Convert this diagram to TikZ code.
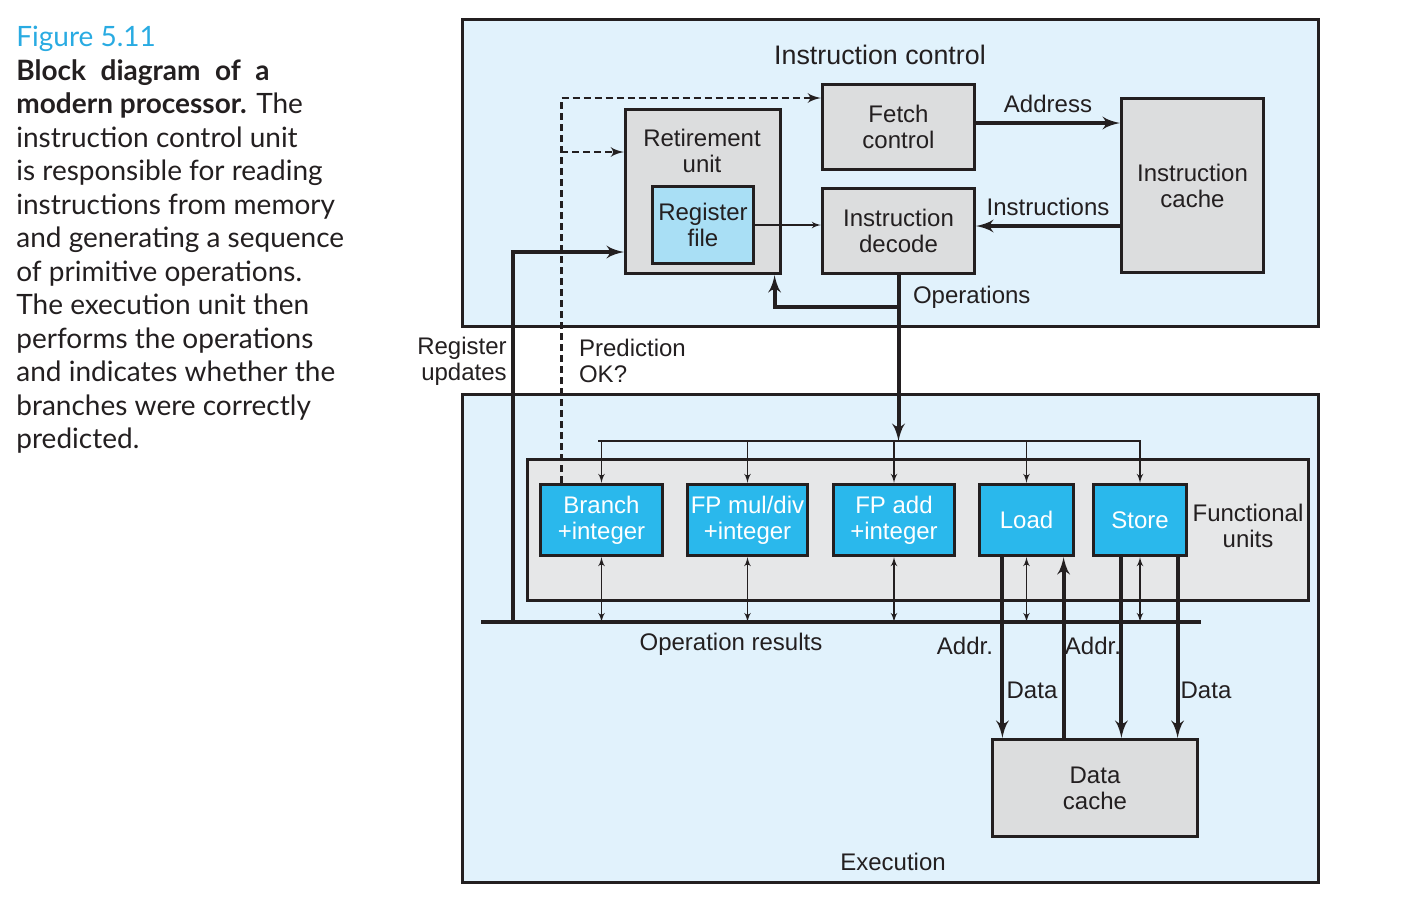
\documentclass[tikz,border=0pt]{standalone}
\usepackage{fontspec}
\setmainfont{Liberation Sans}
\newfontfamily\capfont{Lato}
\usetikzlibrary{arrows,positioning,calc}

\definecolor{unitblue}{HTML}{E1F2FC}
\definecolor{blockgray}{HTML}{DCDDDE}
\definecolor{fugray}{HTML}{E6E7E8}
\definecolor{regblue}{HTML}{A9DFF5}
\definecolor{fucyan}{HTML}{2AB8EC}
\definecolor{figcyan}{HTML}{29ABE2}
\definecolor{ink}{HTML}{231F20}

\begin{document}
\begin{tikzpicture}[x=0.5pt, y=-0.5pt, >=latex', color=ink,
    font=\fontsize{12}{13}\selectfont]

\useasboundingbox (0,0) rectangle (1425,912);

% outer unit style
\tikzstyle{unit} = [
    draw,
    fill=unitblue,
    line width=1.6pt,
    rectangle,
    minimum width=428pt
]

% block style
\tikzstyle{blk} = [
    draw,
    fill=blockgray,
    line width=1.6pt,
    rectangle,
    align=center,
    inner sep=0pt
]

% functional unit style
\tikzstyle{fu} = [
    draw,
    fill=fucyan,
    text=white,
    line width=1.6pt,
    rectangle,
    align=center,
    inner sep=0pt,
    minimum height=35.5pt
]

% connector styles
\tikzstyle{bigarrow} = [->, line width=2pt]
\tikzstyle{thinarrow} = [->, line width=0.6pt]
\tikzstyle{duplex} = [<->, line width=0.6pt]
\tikzstyle{predict} = [->, line width=1.3pt, dash pattern=on 3.5pt off 2pt]

% Caption.
\node [anchor=north west, inner sep=0pt, align=left,
       font=\capfont\fontsize{14}{16.75}\selectfont] (caption) at (16,26)
{\textcolor{figcyan}{Figure 5.11}\\
 \textbf{\makebox[126.5pt][s]{Block diagram of a}}\\
 \textbf{modern processor.} The\\
 instruction control unit\\
 is responsible for reading\\
 instructions from memory\\
 and generating a sequence\\
 of primitive operations.\\
 The execution unit then\\
 performs the operations\\
 and indicates whether the\\
 branches were correctly\\
 predicted.};

% Place the units.
\node [unit, minimum height=153.5pt] (ictrl) at (890.5,173) {};
\node [unit, minimum height=244pt] (exec) at (890.5,638.5) {};
\node [font=\fontsize{13.4}{15}\selectfont] (ictrl-title) at (880,55) {Instruction control};
\node (exec-title) at (893,862) {Execution};

% Instruction control blocks.
\node [blk, minimum width=76pt, minimum height=42.5pt] (fetch) at (898.5,127) {Fetch\\control};
\node [blk, minimum width=76pt, minimum height=42.5pt] (decode) at (898.5,231) {Instruction\\decode};
\node [blk, minimum width=77.5pt, minimum height=82pt] (retire) at (703,191.5) {};
\node [align=center] (retire-title) at (702,151) {Retirement\\unit};
\node [blk, fill=regblue, minimum width=50.5pt, minimum height=38.5pt] (regfile) at (703,225) {Register\\file};
\node [blk, minimum width=71pt, minimum height=87pt] (icache) at (1192.5,185.5) {Instruction\\cache};

% Execution blocks.
\node [draw, fill=fugray, line width=1.6pt, minimum width=390.5pt, minimum height=70.5pt] (funits) at (918,530) {};
\node [align=center] (funits-title) at (1248,526) {Functional\\units};
\node [fu, minimum width=61pt] (branch) at (601.5,520) {Branch\\+integer};
\node [fu, minimum width=60pt] (fpmul) at (747.5,520) {FP mul/div\\+integer};
\node [fu, minimum width=60.5pt] (fpadd) at (894,520) {FP add\\+integer};
\node [fu, minimum width=47pt] (load) at (1026.5,520) {Load};
\node [fu, minimum width=46.5pt] (store) at (1140,520) {Store};
\node [blk, minimum width=102.5pt, minimum height=48.5pt] (dcache) at (1095,788) {Data\\cache};

% Bus ends.
\coordinate (disp-l) at (598,441);
\coordinate (disp-r) at (1141,441);
\coordinate (bus-l) at (481,622);
\coordinate (bus-r) at (1201,622);
\coordinate (ops-split) at (898.5,307);
\coordinate (reg-upd) at (513,622);

% Connect the nodes.
\draw [bigarrow] ([yshift=2pt]fetch.east) -- node [above=1pt] {Address} ([yshift=2pt]fetch.east -| icache.west);
\draw [bigarrow] ([yshift=2.5pt]icache.west |- decode.east) -- node [above=1pt] {Instructions} ([yshift=2.5pt]decode.east);
\draw [thinarrow] (regfile.east) -- (regfile.east -| decode.west);
\draw [bigarrow] (decode.south) -- (decode.south |- disp-l);
\draw [bigarrow] (ops-split) -| ([xshift=-3.75pt]retire.south east);
\node [anchor=west] (ops-label) at (906,297) {Operations};

% Dispatch to the functional units.
\draw [line width=0.6pt] (disp-l) -- (disp-r);
\foreach \u in {branch, fpmul, fpadd, load, store}
    \draw [thinarrow] (\u.north |- disp-l) -- (\u.north);

% Operation results.
\draw [line width=2pt] (bus-l) -- (bus-r);
\foreach \u in {branch, fpmul, fpadd, load, store}
    \draw [duplex] (\u.south) -- (\u.south |- bus-l);
\node (results-label) at (731,644) {Operation results};

% Register updates and prediction.
\draw [bigarrow] (reg-upd) |- ([yshift=-30.25pt]retire.west);
\draw [predict] ([xshift=11.25pt]branch.north west) |- ([yshift=14.5pt]fetch.west);
\draw [predict] ([xshift=11.25pt]branch.north west |- 0,152) -- ([yshift=19.75pt]retire.west);
\node [align=right] (upd-label) at (462,361) {Register\\updates};
\node [align=left, anchor=west] (pred-label) at (572,361) {Prediction\\OK?};

% Data cache traffic.
\draw [bigarrow] ([xshift=12.25pt]load.south west) -- ([xshift=12.25pt]load.south west |- dcache.north);
\draw [bigarrow] ([xshift=-5.75pt]load.south east |- dcache.north) -- ([xshift=-5.75pt]load.south east);
\draw [bigarrow] ([xshift=14.75pt]store.south west) -- ([xshift=14.75pt]store.south west |- dcache.north);
\draw [bigarrow] ([xshift=-5.25pt]store.south east) -- ([xshift=-5.25pt]store.south east |- dcache.north);
\node [anchor=east] (addr-load) at (1000,646) {Addr.};
\node (data-load) at (1032,690) {Data};
\node (addr-store) at (1093,646) {Addr.};
\node (data-store) at (1206,690) {Data};

\end{tikzpicture}
\end{document}
